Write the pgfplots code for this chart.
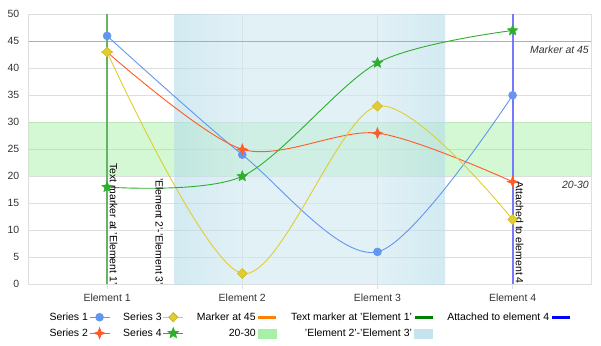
\documentclass[border=0pt]{standalone}
\usepackage{pgfplots}
\pgfplotsset{compat=1.18}
\usepackage{fontspec}
\setmainfont{Liberation Sans}
\definecolor{s1}{RGB}{100,150,240}
\definecolor{s2}{RGB}{255,90,40}
\definecolor{s3}{RGB}{225,205,50}
\definecolor{s3d}{RGB}{205,185,40}
\definecolor{s4}{RGB}{45,175,45}
\definecolor{gridc}{RGB}{222,222,222}
\definecolor{txt}{RGB}{51,51,51}
\definecolor{lgreen}{RGB}{144,238,144}
\definecolor{lblue}{RGB}{173,216,230}
\definecolor{mline}{RGB}{240,165,40}
\definecolor{gline}{RGB}{100,180,100}
\definecolor{bline}{RGB}{120,120,255}

\pgfdeclareplotmark{fstar}{%
 \pgfpathmoveto{\pgfpointpolar{90}{\pgfplotmarksize}}%
 \pgfpathlineto{\pgfpointpolar{126}{0.45\pgfplotmarksize}}%
 \pgfpathlineto{\pgfpointpolar{162}{\pgfplotmarksize}}%
 \pgfpathlineto{\pgfpointpolar{198}{0.45\pgfplotmarksize}}%
 \pgfpathlineto{\pgfpointpolar{234}{\pgfplotmarksize}}%
 \pgfpathlineto{\pgfpointpolar{270}{0.45\pgfplotmarksize}}%
 \pgfpathlineto{\pgfpointpolar{306}{\pgfplotmarksize}}%
 \pgfpathlineto{\pgfpointpolar{342}{0.45\pgfplotmarksize}}%
 \pgfpathlineto{\pgfpointpolar{18}{\pgfplotmarksize}}%
 \pgfpathlineto{\pgfpointpolar{54}{0.45\pgfplotmarksize}}%
 \pgfpathclose
 \pgfusepathqfillstroke}
\pgfdeclareplotmark{fstarf}{%
 \pgfpathmoveto{\pgfpointpolar{90}{\pgfplotmarksize}}%
 \pgfpathlineto{\pgfpointpolar{135}{0.38\pgfplotmarksize}}%
 \pgfpathlineto{\pgfpointpolar{180}{\pgfplotmarksize}}%
 \pgfpathlineto{\pgfpointpolar{225}{0.38\pgfplotmarksize}}%
 \pgfpathlineto{\pgfpointpolar{270}{\pgfplotmarksize}}%
 \pgfpathlineto{\pgfpointpolar{315}{0.38\pgfplotmarksize}}%
 \pgfpathlineto{\pgfpointpolar{0}{\pgfplotmarksize}}%
 \pgfpathlineto{\pgfpointpolar{45}{0.38\pgfplotmarksize}}%
 \pgfpathclose
 \pgfusepathqfillstroke}
\pgfdeclareplotmark{fdiam}{%
 \pgfpathmoveto{\pgfpointpolar{90}{\pgfplotmarksize}}%
 \pgfpathlineto{\pgfpointpolar{180}{\pgfplotmarksize}}%
 \pgfpathlineto{\pgfpointpolar{270}{\pgfplotmarksize}}%
 \pgfpathlineto{\pgfpointpolar{0}{\pgfplotmarksize}}%
 \pgfpathclose
 \pgfusepathqfillstroke}

\newcommand{\fs}{\fontsize{10.5}{12}\selectfont}

\begin{document}
\begin{tikzpicture}
\path[use as bounding box] (0,0) rectangle (601bp,346bp);
\begin{axis}[
  at={(28.7bp,61.7bp)}, anchor=south west,
  width=562.3bp, height=270bp, scale only axis,
  xmin=-0.58, xmax=3.58, ymin=0, ymax=50,
  xtick={0,1,2,3},
  xticklabels={Element 1,Element 2,Element 3,Element 4},
  ytick={0,5,...,50},
  grid=major, grid style={gridc, line width=0.7bp},
  axis line style={gridc, line width=0.8bp},
  xtick style={gridc, line width=0.8bp},
  ytick style={draw=none},
  xtick pos=lower, tick align=outside, major tick length=5bp,
  ticklabel style={font=\fs, text=txt},
  /pgf/number format/assume math mode=true,
  yticklabel style={xshift=-1bp},
  xticklabel style={yshift=-1bp},
  legend columns=5,
  legend plot pos=right,
  legend cell align=right,
  legend style={at={(0.5,-0.1)}, anchor=north, draw=none, fill=none,
    font=\fs, inner sep=0pt, row sep=4.5bp,
    nodes={inner sep=1.2bp},
    /tikz/every even column/.append style={column sep=12bp}},
  legend image code/.code={\draw[mark repeat=2,mark phase=2] plot coordinates {(0bp,0bp)(10bp,0bp)(20bp,0bp)};},
]
% bands
\addplot[draw=none, fill=lgreen, fill opacity=0.4, forget plot] coordinates {(-1,20) (4,20) (4,30) (-1,30)};
\addplot[draw=none, left color=lblue!90!white, right color=lblue!60!white, fill opacity=0.6, forget plot] coordinates {(0.5,0) (1,0) (1,50) (0.5,50)};
\addplot[draw=none, fill=lblue!60!white, fill opacity=0.6, forget plot] coordinates {(1,0) (2,0) (2,50) (1,50)};
\addplot[draw=none, left color=lblue!60!white, right color=lblue!90!white, fill opacity=0.6, forget plot] coordinates {(2,0) (2.5,0) (2.5,50) (2,50)};
% plot lines
\addplot[mline, line width=1bp, forget plot] coordinates {(-1,45) (4,45)};
\addplot[gline, line width=2bp, forget plot] coordinates {(0,0) (0,50)};
\addplot[bline, line width=2bp, forget plot] coordinates {(3,0) (3,50)};
% series
\addplot[s1, line width=0.9bp, smooth, tension=0.5, mark=*, mark size=4bp, mark options={fill=s1, draw=s1, line width=0.5bp}, forget plot]
  coordinates {(0,46) (1,24) (2,6) (3,35)};
\addplot[s2, line width=0.9bp, smooth, tension=0.5, mark=fstarf, mark size=5.5bp, mark options={fill=s2, draw=s2, line width=0.5bp}, forget plot]
  coordinates {(0,43) (1,25) (2,28) (3,19)};
\addplot[s3, line width=0.9bp, smooth, tension=0.5, mark=fdiam, mark size=5bp, mark options={fill=s3, draw=s3d, line width=0.5bp}, forget plot]
  coordinates {(0,43) (1,2) (2,33) (3,12)};
\addplot[s4, line width=0.9bp, smooth, tension=0.5, mark=fstar, mark size=5.5bp, mark options={fill=s4, draw=s4, line width=0.5bp}, forget plot]
  coordinates {(0,18) (1,20) (2,41) (3,47)};
% labels
\node[font=\fs\itshape, text=txt, anchor=north east, inner sep=0pt] at ([xshift=-2bp,yshift=-4.5bp]axis cs:3.58,45) {Marker at 45};
\node[font=\fs\itshape, text=txt, anchor=north east, inner sep=0pt] at ([xshift=-2bp,yshift=-4.5bp]axis cs:3.58,20) {20-30};
\node[font=\fs, text=black, rotate=-90, anchor=south west, inner sep=0pt] at ([xshift=2.5bp]axis cs:0,22.4) {Text marker at 'Element 1'};
\node[font=\fs, text=black, rotate=-90, anchor=north west, inner sep=0pt] at ([xshift=-11.4bp]axis cs:0.5,19.7) {'Element 2'-'Element 3'};
\node[font=\fs, text=black, rotate=-90, anchor=south west, inner sep=0pt] at ([xshift=3bp]axis cs:3,19) {Attached to element 4};
% legend (row-major order)
\addlegendimage{s1, line width=0.9bp, mark=*, mark size=3.8bp, mark options={fill=s1, draw=s1}}
\addlegendentry{Series 1}
\addlegendimage{s3, line width=0.9bp, mark=fdiam, mark size=4.6bp, mark options={fill=s3, draw=s3d}}
\addlegendentry{Series 3}
\addlegendimage{legend image code/.code={\draw[orange, line width=3bp] (0bp,0bp) -- (18bp,0bp);}}
\addlegendentry{Marker at 45}
\addlegendimage{legend image code/.code={\draw[green!50!black, line width=3bp] (0bp,0bp) -- (18bp,0bp);}}
\addlegendentry{Text marker at 'Element 1'}
\addlegendimage{legend image code/.code={\draw[blue, line width=3bp] (0bp,0bp) -- (18bp,0bp);}}
\addlegendentry{Attached to element 4}
\addlegendimage{s2, line width=0.9bp, mark=fstarf, mark size=5.2bp, mark options={fill=s2, draw=s2}}
\addlegendentry{Series 2}
\addlegendimage{s4, line width=0.9bp, mark=fstar, mark size=5.2bp, mark options={fill=s4, draw=s4}}
\addlegendentry{Series 4}
\addlegendimage{legend image code/.code={\fill[lgreen!80!white] (0bp,-4.5bp) rectangle (18bp,4.5bp);}}
\addlegendentry{20-30}
\addlegendimage{legend image code/.code={\fill[lblue!70!white] (0bp,-4.5bp) rectangle (18bp,4.5bp);}}
\addlegendentry{'Element 2'-'Element 3'}
\end{axis}
\end{tikzpicture}
\end{document}
